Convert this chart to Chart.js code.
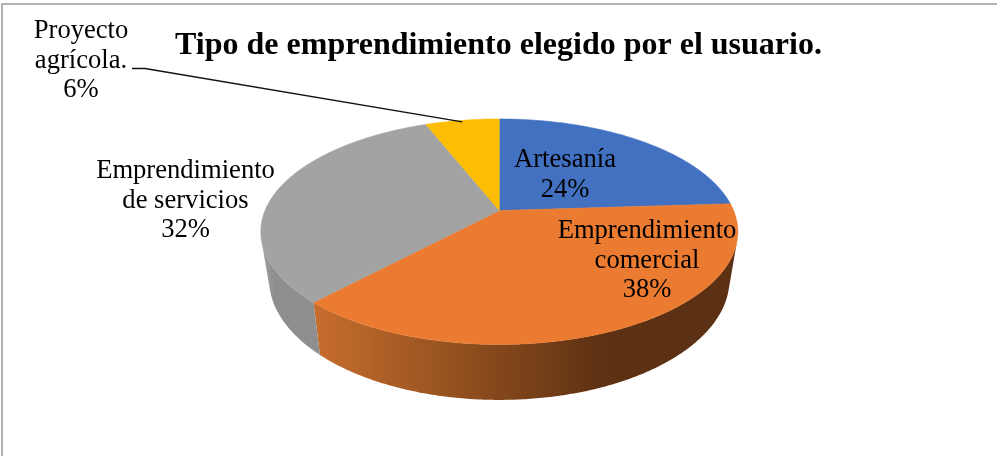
<!DOCTYPE html>
<html>
<head>
<meta charset="utf-8">
<script src="https://cdn.jsdelivr.net/npm/chart.js@4"></script>
<style>
    html, body { margin: 0; padding: 0; background: #fff; overflow: hidden; }
    #frame { position: absolute; left: 1px; top: 3px; width: 1100px; height: 600px; border: 2px solid #b2b2b2; }
    #chart { position: absolute; left: 0; top: 0; }
</style>
</head>
<body>
<div id="frame"></div>
<canvas id="chart" width="997" height="456"></canvas>
<script>
var categories = ['Artesanía', 'Emprendimiento comercial', 'Emprendimiento de servicios', 'Proyecto agrícola.'];
var values = [24, 38, 32, 6];
var labelLines = [['Artesanía'], ['Emprendimiento', 'comercial'], ['Emprendimiento', 'de servicios'], ['Proyecto', 'agrícola.']];
var topColors = ['#4371C2', '#EB7B30', '#A3A3A3', '#FCBD02'];

// label placement: center x, first baseline
var labelPos = [[565, 167], [647, 238], [185.5, 178], [81, 38]];
var lineGap = 29.5;

// wall shading, x position and colour
var wallStops = [
    [[499, '#2f4a80'], [737, '#2f4a80']],
    [[316, '#c66d2e'], [450, '#96521f'], [600, '#5e3113'], [737, '#5c3013']],
    [[262, '#a0a0a0'], [275, '#8e8e8e'], [320, '#8f8f8f']],
    [[400, '#a67c00'], [500, '#a67c00']]
];

// perspective of the pie: top face and bottom face
var top3d = { cx: 499.3, cy: 210.5, a: 234.3, b: 108.8, k: 0.188 };
var bottom3d = { cx: 499.3, cy: 256.7, a: 226.1, b: 116.3, k: 0.188 };
var wallFrom = 106 * Math.PI / 180;
var wallTo = 254 * Math.PI / 180;

function project(f, theta) {
    var u = Math.sin(theta);
    var v = -Math.cos(theta);
    var w = 1 - f.k * v;
    return { x: f.cx + f.a * u / w, y: f.cy + f.b * v / w };
}

function rim(f, from, to) {
    var pts = [];
    var n = Math.max(2, Math.ceil(Math.abs(to - from) / 0.01));
    for (var i = 0; i <= n; i++) {
        pts.push(project(f, from + (to - from) * i / n));
    }
    return pts;
}

function drawWall(ctx, arc, index) {
    var from = Math.max(arc.startAngle + Math.PI / 2, wallFrom);
    var to = Math.min(arc.endAngle + Math.PI / 2, wallTo);
    if (to <= from) return;
    var pts = rim(top3d, from, to).concat(rim(bottom3d, from, to).reverse());
    var stops = wallStops[index];
    var x0 = stops[0][0];
    var x1 = stops[stops.length - 1][0];
    var grad = ctx.createLinearGradient(x0, 0, x1, 0);
    stops.forEach(function(s) {
        grad.addColorStop((s[0] - x0) / (x1 - x0), s[1]);
    });
    ctx.beginPath();
    pts.forEach(function(p, i) {
        if (i === 0) ctx.moveTo(p.x, p.y); else ctx.lineTo(p.x, p.y);
    });
    ctx.closePath();
    ctx.fillStyle = grad;
    ctx.fill();
}

function drawTop(ctx, arc, index) {
    var pts = rim(top3d, arc.startAngle + Math.PI / 2, arc.endAngle + Math.PI / 2);
    ctx.beginPath();
    ctx.moveTo(top3d.cx, top3d.cy);
    pts.forEach(function(p) { ctx.lineTo(p.x, p.y); });
    ctx.closePath();
    ctx.fillStyle = topColors[index];
    ctx.fill();
    ctx.strokeStyle = topColors[index];
    ctx.lineWidth = 0.5;
    ctx.stroke();
}

// Pie in perspective, the angles come from the arcs that Chart.js computed
var pie3d = {
    id: 'pie3d',
    beforeDatasetDraw: function(chart, args) {
        var ctx = chart.ctx;
        var arcs = chart.getDatasetMeta(args.index).data;
        ctx.save();
        arcs.forEach(function(arc, i) { drawWall(ctx, arc, i); });
        arcs.forEach(function(arc, i) { drawTop(ctx, arc, i); });
        ctx.restore();
        return false;
    },
    afterDatasetsDraw: function(chart) {
        var ctx = chart.ctx;
        var arcs = chart.getDatasetMeta(0).data;

        // leader line of the small slice
        var small = arcs[3];
        var end = project(top3d, (small.startAngle + small.endAngle) / 2 + Math.PI / 2);
        ctx.save();
        ctx.beginPath();
        ctx.moveTo(132, 68.5);
        ctx.lineTo(145, 68.5);
        ctx.lineTo(end.x, end.y + 1.5);
        ctx.strokeStyle = '#111';
        ctx.lineWidth = 1.3;
        ctx.stroke();

        ctx.font = '26.6px "Liberation Serif"';
        ctx.fillStyle = '#000';
        ctx.textAlign = 'center';
        ctx.textBaseline = 'alphabetic';
        values.forEach(function(v, i) {
            var lines = labelLines[i].concat([v + '%']);
            lines.forEach(function(line, j) {
                ctx.fillText(line, labelPos[i][0], labelPos[i][1] + j * lineGap);
            });
        });
        ctx.restore();
    }
};

var chart = new Chart(document.getElementById('chart').getContext('2d'), {
    type: 'pie',
    data: {
        labels: categories,
        datasets: [{
            data: values,
            backgroundColor: topColors
        }]
    },
    options: {
        responsive: false,
        animation: false,
        events: [],
        plugins: {
            legend: { display: false },
            tooltip: { enabled: false },
            title: {
                display: true,
                text: 'Tipo de emprendimiento elegido por el usuario.',
                color: '#000',
                font: { family: '"Liberation Serif"', size: 32, weight: 'bold' },
                padding: { top: 27, bottom: 10 }
            }
        }
    },
    plugins: [pie3d]
});
</script>
</body>
</html>
